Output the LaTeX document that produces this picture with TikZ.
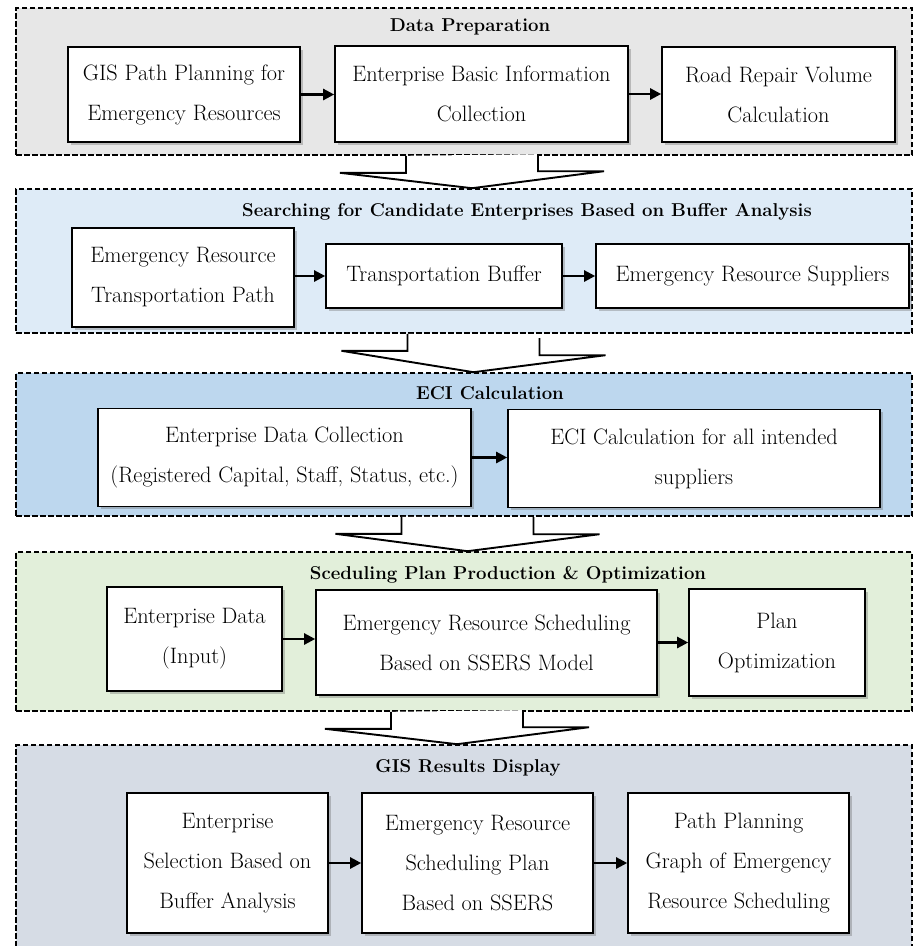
\documentclass[tikz,border=0pt]{standalone}
\usepackage{tikz}
\usetikzlibrary{arrows.meta,positioning,calc,shadows}
\definecolor{prepgray}{HTML}{E7E7E7}
\definecolor{searchblue}{HTML}{DEEBF7}
\definecolor{eciblue}{HTML}{BDD7EE}
\definecolor{plangreen}{HTML}{E2EFDA}
\definecolor{showgray}{HTML}{D6DCE5}
\tikzset{
    >={Triangle[length=11pt,width=11pt]},
    panel/.style={draw,dash pattern=on 5.5pt off 2.5pt,line width=1.6pt,minimum width=896pt,inner sep=0pt},
    stage/.style={font=\fontsize{18.6}{22}\selectfont\bfseries,inner sep=0pt},
    box/.style={draw,fill=white,line width=1.6pt,align=center,inner sep=0pt,
        font=\fontsize{22.3}{40}\selectfont,
        drop shadow={shadow xshift=2.5pt,shadow yshift=-2.5pt,opacity=0.35,fill=black!60}},
    flow/.style={->,line width=2.4pt},
    bigarrow/.style={draw,fill=white,line width=1.9pt,line join=miter}
}
% hollow arrow from one stage to the next (#3 = shift from the middle)
\newcommand{\stagearrow}[3]{%
    \draw[bigarrow] ([xshift={#3pt-66pt}]#1.south) -- ++(0,17) -- ++(-66,0)
        -- ([xshift={#3pt}]#2.north) -- ++(132,-17) -- ++(-66,0) -- ++(0,-17);
}

\begin{document}
\begin{tikzpicture}[x=1pt,y=-1pt]
    \useasboundingbox (0,0) rectangle (913,946);
    \clip (0,0) rectangle (913,946);

    % Data preparation
    \node[panel,fill=prepgray,minimum height=147pt] (prep) at (464,81.5) {};
    \node[stage] (preptitle) at (470,27) {Data Preparation};
    \node[box,minimum width=232pt,minimum height=95pt] (gis) at (184,94.5) {GIS Path Planning for\\Emergency Resources};
    \node[box,minimum width=293pt,minimum height=96pt] (info) at (481.5,94) {Enterprise Basic Information\\Collection};
    \node[box,minimum width=233pt,minimum height=95pt] (road) at (778.5,94.5) {Road Repair Volume\\Calculation};
    \draw[flow] (gis.east) -- (gis.east -| info.west);
    \draw[flow] (info.east) -- (info.east -| road.west);

    % Buffer analysis
    \node[panel,fill=searchblue,minimum height=144pt] (search) at (464,261) {};
    \node[stage] (searchtitle) at (527,212) {Searching for Candidate Enterprises Based on Buffer Analysis};
    \node[box,minimum width=222pt,minimum height=99pt] (path) at (183,277.5) {Emergency Resource\\Transportation Path};
    \node[box,minimum width=236pt,minimum height=64pt] (buffer) at (444,276) {Transportation Buffer};
    \node[box,minimum width=313pt,minimum height=64pt] (supp) at (752.5,276) {Emergency Resource Suppliers};
    \draw[flow] (path.east |- buffer) -- (buffer.west);
    \draw[flow] (buffer.east) -- (supp.west);

    % ECI
    \node[panel,fill=eciblue,minimum height=143pt] (eci) at (464,444.5) {};
    \node[stage] (ecititle) at (490,393) {ECI Calculation};
    \node[box,minimum width=373pt,minimum height=98pt] (edc) at (284.5,457.5) {Enterprise Data Collection\\(Registered Capital, Staff, Status, etc.)};
    \node[box,minimum width=372pt,minimum height=98pt] (ecicalc) at (694,458.5) {ECI Calculation for all intended\\suppliers};
    \draw[flow] (edc.east) -- (edc.east -| ecicalc.west);

    % Scheduling plan
    \node[panel,fill=plangreen,minimum height=159pt] (plan) at (464,631.5) {};
    \node[stage] (plantitle) at (508,575) {Sceduling Plan Production \& Optimization};
    \node[box,minimum width=175pt,minimum height=104pt] (edata) at (194.5,639) {Enterprise Data\\(Input)};
    \node[box,minimum width=341pt,minimum height=105pt] (sched) at (486.5,642.5) {Emergency Resource Scheduling\\Based on SSERS Model};
    \node[box,minimum width=176pt,minimum height=107pt] (opt) at (777,642.5) {Plan\\Optimization};
    \draw[flow] (edata.east) -- (edata.east -| sched.west);
    \draw[flow] (sched.east) -- (sched.east -| opt.west);

    % GIS display
    \node[panel,fill=showgray,minimum height=220pt] (show) at (464,855) {};
    \node[stage] (showtitle) at (468,768) {GIS Results Display};
    \node[box,minimum width=201pt,minimum height=140pt] (sel) at (227.5,863) {Enterprise\\Selection Based on\\Buffer Analysis};
    \node[box,minimum width=231pt,minimum height=140pt] (splan) at (477.5,863) {Emergency Resource\\Scheduling Plan\\Based on SSERS};
    \node[box,minimum width=221pt,minimum height=140pt] (graph) at (738.5,863) {Path Planning\\Graph of Emergency\\Resource Scheduling};
    \draw[flow] (sel.east) -- (splan.west);
    \draw[flow] (splan.east) -- (graph.west);

    \stagearrow{prep}{search}{8}
    \stagearrow{search}{eci}{9.5}
    \stagearrow{eci}{plan}{3.5}
    \stagearrow{plan}{show}{-7}
\end{tikzpicture}
\end{document}
